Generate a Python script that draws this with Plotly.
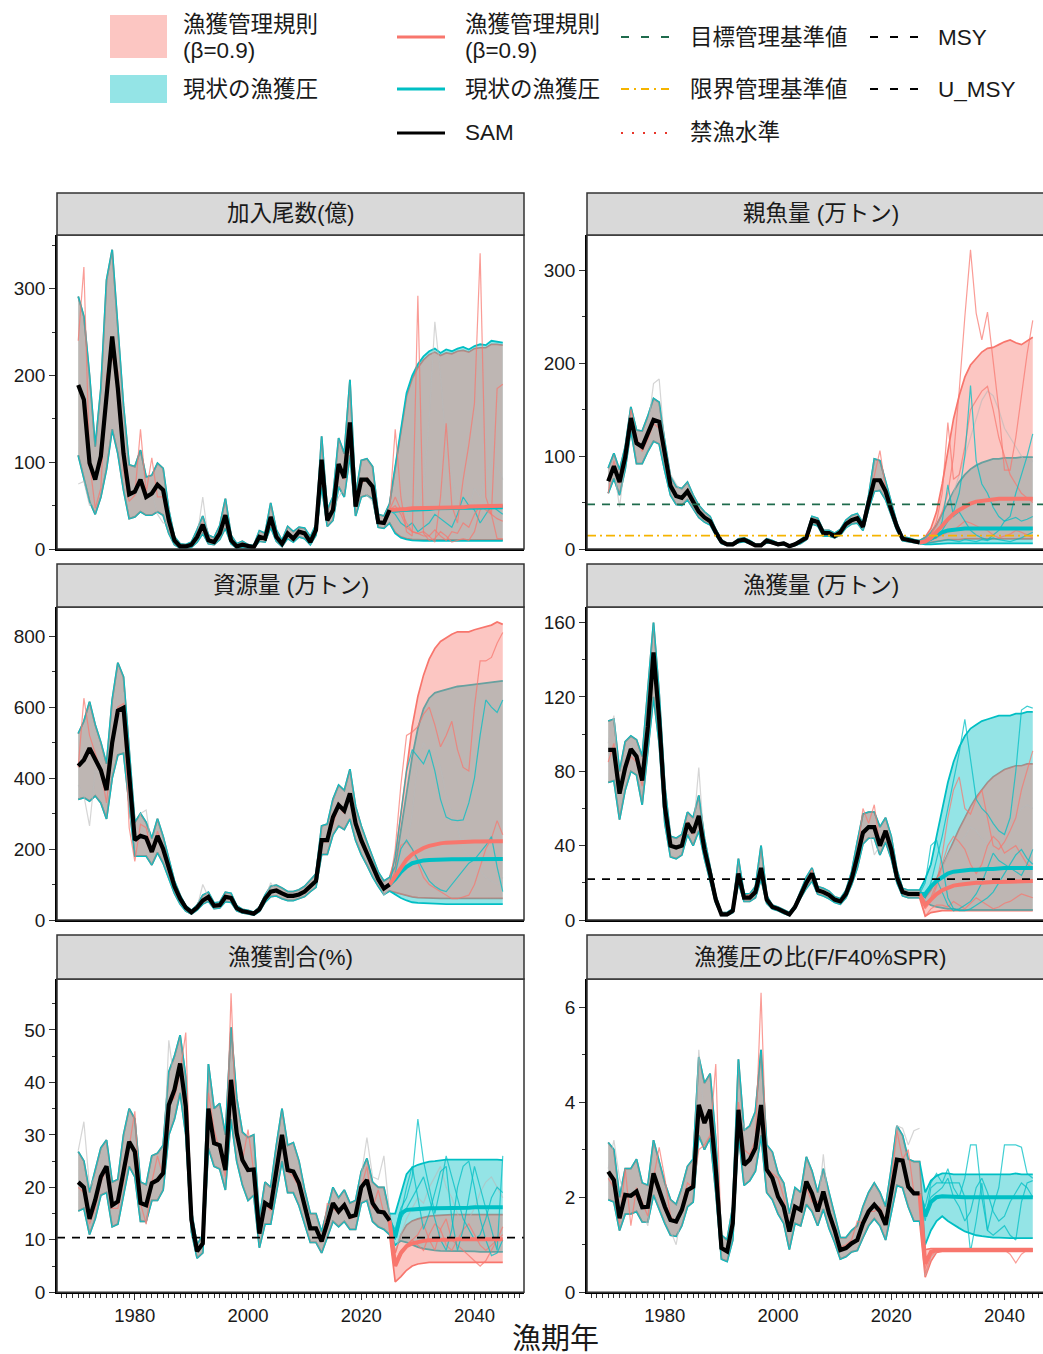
import plotly.graph_objects as go

W, H = 1043, 1354
FONT = "Liberation Sans, Arial, Noto Sans CJK JP, sans-serif"
RED = "#F8766D"
CYAN = "#00BFC4"
RED_FILL = "rgba(248,118,109,0.42)"
CYAN_FILL = "rgba(0,191,196,0.42)"
RED_THIN = "rgba(248,118,109,0.72)"
CYAN_THIN = "rgba(0,191,196,0.75)"
GRAY_THIN = "rgba(185,185,185,0.6)"

YEARS_HIST = list(range(1970, 2026))
YEARS_FUT = list(range(2026, 2046))

# ---------------- 加入尾数(億) ----------------
REC_SAM = [189,172,99,80,107,176,245,185,110,63,
           66,80,60,64,74,68,33,10,3,3,
           5,14,28,10,8,18,39,10,3,5,
           3,2,14,12,37,14,6,18,12,20,
           18,8,22,103,33,45,98,82,146,49,
           80,80,72,31,30,45]
REC_HI = [291,268,200,118,185,310,345,260,165,97,
          95,114,83,85,99,93,45,14,6,5,
          8,22,38,16,13,27,58,16,6,9,
          5,4,21,18,53,22,10,26,20,25,
          24,14,28,130,45,60,128,110,195,62,
          102,104,95,40,38,52]
REC_LO = [108,80,55,40,60,92,138,110,68,35,
          37,43,39,39,43,39,18,5,1,1,
          2,8,18,6,5,11,24,6,1,2,
          1,1,9,8,25,9,3,12,8,14,
          12,5,16,72,26,33,72,60,108,38,
          60,62,58,25,24,30]
REC_HIST_RED = [240,325,100,47,70,200,220,205,90,55,
                62,138,65,105,60,60,30,12,3,3,
                5,15,30,10,7,17,40,10,3,6,
                3,2,15,12,38,14,6,17,12,20,
                18,8,22,95,33,44,95,80,140,50,
                75,82,70,30,30,45]
REC_HIST_GRAY = [75,78,50,58,110,220,300,200,90,60,
                 64,82,58,66,40,30,30,10,3,3,
                 5,14,60,10,8,18,40,10,3,5,
                 3,2,14,12,37,14,6,18,12,20,
                 18,8,22,100,33,45,60,70,146,55,
                 80,62,55,30,30,45]
REC_RULE_MED = [45,46,46,47,47,47,47,48,48,48,48,48,48,49,49,49,49,49,50,50]
REC_RULE_HI = [92,136,176,196,209,218,224,227,223,226,225,228,229,227,231,232,232,236,236,235]
REC_RULE_LO = [19,14,12,11,10.5,10.5,10.5,10.5,10.5,10.5,10.5,10.5,10.5,10.5,10.5,10.5,10.5,10.5,10.5,10.5]
REC_CUR_MED = [44,45,45,46,46,46,46,47,47,47,47,47,47,48,48,48,48,48,48,48]
REC_CUR_HI = [95,140,180,200,213,222,228,231,226,230,228,231,233,230,234,236,235,240,239,238]
REC_CUR_LO = [18,13,11,10,9.5,9.5,9.5,9.5,9.5,9.5,9.5,9.5,9.5,9.5,9.5,9.5,9.5,9.5,9.5,9.5]
REC_RED_A = [138,60,20,15,292,18,10,12,20,15,8,10,12,10,20,45,50,40,12,12]
REC_RED_B = [60,45,30,20,18,15,15,8,60,145,50,30,80,120,168,341,60,40,185,190]
REC_RED_C = [50,40,25,20,18,20,15,22,15,10,20,18,30,25,40,50,45,40,35,32]
REC_CYAN_A = [40,30,25,30,20,25,30,40,35,30,25,40,60,50,45,30,40,50,45,40]
REC_GRAY_F = [40,35,30,60,50,70,150,262,200,120,80,60,50,45,70,60,90,100,95,80]

# ---------------- 親魚量 (万トン) ----------------
SSB_SAM = [73,89,72,99,141,114,110,125,139,137,
           99,68,57,55,62,50,40,34,30,18,
           8,5,5,9,10,7,4,4,9,7,
           5,6,3,5,8,12,31,29,17,17,
           14,18,27,31,33,24,50,74,74,62,
           42,24,11,10,8,7]
SSB_HI = [87,103,85,110,153,128,127,143,162,158,
          115,78,67,65,72,58,47,40,35,21,
          10,6,6,11,12,9,5,5,11,9,
          6,7,4,6,10,15,35,33,20,20,
          17,21,31,36,38,28,57,97,95,72,
          50,28,13,12,10,9]
SSB_LO = [60,76,58,86,128,92,92,105,116,113,
          84,58,48,47,53,43,34,29,26,15,
          6,4,4,7,8,6,3,3,7,6,
          4,5,2,4,6,10,27,25,14,14,
          12,15,23,27,28,20,43,62,63,53,
          36,20,9,8,7,6]
SSB_HIST_RED = [60,95,70,105,150,120,105,118,135,130,
                95,70,58,54,60,48,40,36,28,17,
                8,5,5,9,10,7,4,4,9,7,
                5,6,3,5,8,12,30,30,17,17,
                14,18,27,31,34,24,52,80,106,65,
                40,23,11,10,8,7]
SSB_HIST_GRAY = [75,88,45,96,140,112,112,130,178,183,
                 110,80,70,60,63,50,40,33,29,17,
                 8,5,5,9,10,7,4,4,9,7,
                 5,6,3,5,8,12,31,29,17,17,
                 14,18,27,31,33,24,50,74,72,62,
                 42,24,11,10,8,7]
SSB_RULE_HI = [13,22,40,70,105,140,165,185,198,205,212,216,217,220,223,225,222,220,224,228]
SSB_RULE_LO = [6,7,8,9,10,10,10,11,11,11,11,11,11,11,11,11,11,11,11,11]
SSB_RULE_MED = [8,12,18,25,32,38,42,46,49,51,52,53,54,54,54,54,54,54,54,54]
SSB_CUR_HI = [12,18,26,38,50,62,72,80,86,90,93,95,97,97,98,98,98,99,99,99]
SSB_CUR_LO = [5,5,5.5,6,6,6,6,6,6,6,6,6,6,6,6,6,6,6,6,6]
SSB_CUR_MED = [8,11,15,18,20,21,21,22,22,22,22,22,22,22,22,22,22,22,22,22]
SSB_RED_A = [9,15,25,40,60,100,170,250,322,254,225,255,200,150,85,85,120,165,210,246]
SSB_RED_B = [10,15,30,60,136,75,80,110,150,160,170,175,150,120,100,80,70,60,55,50]
SSB_RED_C = [8,10,12,15,18,20,25,30,28,25,22,20,15,12,14,16,20,18,15,12]
SSB_CYAN_A = [8,10,14,20,30,40,60,100,176,95,70,60,45,35,30,35,60,80,100,124]
SSB_CYAN_B = [8,10,12,30,69,35,40,30,20,15,12,10,15,20,30,32,34,30,32,35]
SSB_CYAN_C = [6,7,8,9,10,9,8,10,9,8,10,9,12,10,9,8,10,12,15,18]
SSB_GRAY_F = [8,12,20,30,45,60,80,100,120,140,160,170,165,150,130,120,110,100,90,95]
SSB_TARGET = 48
SSB_LIMIT = 14.5

# ---------------- 資源量 (万トン) ----------------
BIO_SAM = [434,451,484,451,422,366,500,590,598,410,
           225,237,232,192,237,200,150,95,60,35,
           22,35,55,65,40,42,65,62,33,25,
           22,18,30,60,80,83,75,68,68,72,
           80,95,110,225,225,290,324,308,357,272,
           225,188,150,115,89,100]
BIO_HI = [525,560,615,550,500,440,620,725,685,480,
          275,300,275,230,285,235,175,110,70,40,
          27,42,70,78,48,50,78,75,40,30,
          27,22,36,70,95,98,90,80,80,85,
          95,112,130,265,270,340,380,365,425,320,
          265,220,175,135,110,120]
BIO_LO = [340,345,335,350,330,285,400,465,470,330,
          180,180,180,155,190,160,120,75,45,25,
          17,28,45,53,32,34,52,50,26,20,
          17,14,24,50,66,68,60,55,55,60,
          66,80,92,185,185,240,265,255,285,225,
          185,155,122,95,72,82]
BIO_HIST_RED = [430,625,520,470,420,330,480,600,610,260,
                165,270,260,190,250,200,140,90,55,30,
                22,33,58,64,42,43,63,62,33,25,
                22,18,30,60,80,82,75,68,68,72,
                80,95,110,220,220,270,320,300,350,270,
                220,185,150,112,88,100]
BIO_HIST_GRAY = [380,350,265,420,410,350,510,630,640,300,
                 230,300,310,200,240,200,150,95,60,35,
                 22,35,100,65,40,42,65,62,33,25,
                 22,18,30,60,105,83,75,68,68,72,
                 80,95,110,225,200,290,324,308,357,272,
                 225,188,150,115,70,90]
BIO_RULE_HI = [175,300,430,545,630,690,735,765,785,795,805,812,812,812,818,822,825,831,840,833]
BIO_RULE_LO = [78,72,68,65,63,62,62,61,61,61,61,61,61,61,61,61,61,61,61,61]
BIO_RULE_MED = [125,150,170,185,195,203,209,213,216,218,219,220,220,221,221,221,222,222,222,222]
BIO_CUR_HI = [150,250,360,460,540,595,625,640,645,650,655,658,660,662,664,666,668,670,674,674]
BIO_CUR_LO = [72,62,55,50,48,47,46,45,45,45,45,45,45,45,45,45,45,45,45,45]
BIO_CUR_MED = [115,135,150,160,165,168,169,170,170,170,171,171,171,172,172,172,172,172,172,172]
BIO_CYAN_A = [180,300,420,480,460,440,480,420,340,290,282,280,282,330,400,520,620,600,585,620]
BIO_CYAN_B = [130,200,225,200,170,140,110,95,85,80,100,120,140,160,170,190,210,235,150,80]
BIO_RED_A = [200,380,520,530,545,580,600,550,488,520,560,480,430,420,600,730,730,740,780,810]
BIO_RED_B = [140,210,220,200,160,120,100,90,80,70,60,60,65,70,100,150,200,230,280,240]
BIO_GRAY_F = [120,160,200,300,450,500,470,480,430,350,300,260,200,180,160,140,120,110,100,120]

# ---------------- 漁獲量 (万トン) ----------------
CATCH_SAM = [91.5,91.5,68,82,92,88,75,104,144,108,
             61,40,39,40,52,47,56,38,25,11,
             3,3,5,25,12,12,15,28,11,7,
             6,4.5,3,7,14,20,25,16,15,13.5,
             11,10,14,22,34,47,50,50,40,48,
             38,23,15,14,14,14]
CATCH_HI = [107,108,80,96,99,97,88,125,160,122,
            72,45,44,46,58,55,67,44,29,13,
            4,4,6,33,14,14,18,40,13,8,
            7,5.5,4,8,16,23,28,18,17,15.5,
            12.5,11.5,16,26,42,57,58,58,50,55,
            45,27,17,16,16,16]
CATCH_LO = [74,75,54,70,80,78,62,90,120,95,
            52,34,33,35,46,40,48,33,21,9,
            2.5,2.5,4,20,10,10,12,22,9,6,
            5,3.5,2.5,6,12,17,21,14,13,11.5,
            9.5,8.5,12,19,28,41,44,44,35,42,
            33,20,13,12,12,12]
CATCH_HIST_RED = [85,95,72,80,88,85,72,110,140,105,
                  60,40,40,40,53,46,55,38,25,11,
                  3,3,5,25,12,14,15,27,11,7,
                  6,4.5,3,7,14,20,27,16,15,13.5,
                  11,10,14,22,36,60,52,62,40,48,
                  38,23,15,14,14,14]
CATCH_HIST_GRAY = [95,110,70,85,95,90,75,104,144,108,
                   61,40,39,40,52,47,82,38,25,11,
                   3,3,5,25,12,12,15,28,11,7,
                   6,4.5,3,7,14,20,25,16,15,13.5,
                   11,10,14,22,34,47,50,35,40,48,
                   38,23,15,14,14,14]
CATCH_RULE_HI = [12,16,22,29,36,43,49,55,61,66,70,74,77,79,81,82,83,83,84,84]
CATCH_RULE_LO = [2,4,4.5,5,5,5,5,5,5,5,5,5,5,5,5,5,5,5,5,5]
CATCH_RULE_MED = [8,11,14,16,17.5,18.5,19,19.5,20,20,20,20.5,20.5,20.5,20.5,20.5,21,21,21,21]
CATCH_CUR_HI = [22,30,45,60,74,85,93,99,103,105,107,108,109,110,110,110,111,111,112,112]
CATCH_CUR_LO = [10,8,7,6.5,6,6,5.5,5.5,5.5,5.5,5.5,5.5,5.5,5.5,5.5,5.5,5.5,5.5,5.5,5.5]
CATCH_CUR_MED = [14,18,21,23,25,26,26.5,27,27,27,27.5,27.5,27.5,28,28,28,28,28,28,28]
CATCH_CYAN_A = [12,20,32,45,60,75,90,108,85,65,60,57,52,48,46,55,80,113,115,114]
CATCH_CYAN_B = [20,40,43,30,12,6,5,5,6,8,10,12,15,20,25,30,35,38,33,30]
CATCH_CYAN_C = [12,18,22,15,8,5,6,8,10,14,20,28,36,32,30,28,26,24,30,38]
CATCH_RED_A = [8,12,20,35,55,70,77,60,57,65,70,55,40,38,42,48,55,70,80,91]
CATCH_RED_B = [6,10,18,30,40,45,42,38,30,25,30,40,45,42,36,38,40,35,30,28]
CATCH_RED_C = [2,6,8,8,7,10,8,6,9,12,10,8,6,7,9,10,12,14,13,12]
CATCH_GRAY_F = [10,14,20,28,35,40,42,45,50,48,44,40,38,42,46,50,55,60,62,60]
CATCH_MSY = 22

# ---------------- 漁獲割合(%) ----------------
RATE_SAM = [21,20,14,17.6,22,24,16.6,17.3,23,28.7,
            26.8,17,16.6,20.8,21.4,22.7,35.7,38.6,43.6,35.4,
            13.8,7.8,9.3,35,28.4,28,23.3,40.5,30.3,25.2,
            23.3,23.4,11.2,17,16.3,23.3,30,23.3,23,20.8,
            16.3,12.2,12.2,9.7,13.2,17,15.4,16.6,14.4,14.7,
            20,21.4,17,15.4,15.2,13.7]
RATE_HI = [26.8,25,19,23,27.5,29,21,21.5,30,35,
           33,21,20.5,26,26.5,28,42,45,49,41,
           15.5,9,11,43.5,35,36,30,50.5,37,30.5,
           29.5,30,14,21,20,28,35,28,28.5,25,
           19.5,15,15,11.5,16,20,18,19.5,17,17.5,
           23,25.5,21,20,20,15]
RATE_LO = [15.5,16,11,14,18.5,19,12.5,13,18.5,24,
           22,13.5,13.5,17.5,17.5,19.5,30,33,38,30,
           11.5,6.5,7.5,27.5,24,23.5,19.5,33,25,20.5,
           17.5,18.5,8.5,13,13,19,25,19,19,16.5,
           13,9.5,9.5,7.5,10.5,13.5,12.5,13.5,12,12,
           17,17.5,13.5,12.5,12,11]
RATE_HIST_RED = [20,19,13,16,21,23.5,16,16,21,28,
                 34.5,17,13,21,26,22,36,37,42,49.5,
                 14,8,9,38,31,27,22,57,29,25,
                 31,23,11,17,15.5,23,29,23,22,20,
                 16,12,12,9.5,17,16,15,17,14,14.5,
                 20,24,16,19.5,15,14]
RATE_HIST_GRAY = [27,32.5,20,22,25,27,18,15,24,30,
                  28,18,13,21,22,24,48,40,44,36,
                  14,8,9.5,35,28,28,24,40,30,25,
                  23,23,11,17,16,23,30,23,23,21,
                  16,12,12,10,13,17,15,17,14,15,
                  22,29.5,22,21.5,26,15]
RATE_RULE_HI = [7.5,11,12.8,13.6,14,14.3,14.5,14.6,14.7,14.7,14.8,14.8,14.8,14.8,14.8,14.8,14.8,14.8,14.8,14.8]
RATE_RULE_LO = [2,3,4.2,5,5.4,5.6,5.7,5.7,5.7,5.7,5.7,5.7,5.7,5.7,5.7,5.7,5.7,5.7,5.7,5.7]
RATE_RULE_MED = [5,7.5,8.8,9.3,9.6,9.8,9.9,10,10,10,10.1,10.1,10.1,10.1,10.1,10.1,10.1,10.1,10.1,10.1]
RATE_CUR_HI = [15,19,22.5,23.8,24.3,24.6,24.9,25,25.2,25.3,25.3,25.3,25.3,25.3,25.4,25.4,25.3,25.3,25.3,25.2]
RATE_CUR_LO = [9,9.8,9.5,9,8.6,8.3,8.1,8,7.9,7.9,7.8,7.8,7.8,7.8,7.8,7.7,7.7,7.7,7.7,7.7]
RATE_CUR_MED = [10.5,15,15.7,15.8,15.9,16,16,16,16,16.1,16.1,16.1,16.1,16.1,16.2,16.2,16.2,16.2,16.2,16.2]
RATE_CYAN_A = [12,16,18,22,33,25,20,15,20,26,22,18,14,12,10,11,14,18,20,19]
RATE_CYAN_B = [11,15,20,24,18,12,15,19,23,24,14,8,12,18,24,20,16,12,8,26]
RATE_CYAN_C = [10,14,16,18,20,22,18,14,10,8,12,20,24,25,20,14,10,7,7.5,10]
RATE_RED_A = [6,8,9,10,11,13,10,8,12,14,10,9,8,7,6,5,6,8,10,12.5]
RATE_RED_B = [5,7,9,10,9,8,11,13,12,9,8,10,12,13,11,9,8,9,10,11]
RATE_GRAY_F = [8,11,14,16,18,17,20,22,24,20,18,15,12,14,16,19,21,22,20,18]
RATE_UMSY = 10.4

# ---------------- 漁獲圧の比(F/F40%SPR) ----------------
FR_SAM = [2.54,2.36,1.56,2.05,2.03,2.12,1.79,1.8,2.5,2.15,
          1.8,1.52,1.49,1.73,2.15,2.22,3.94,3.56,3.84,2.58,
          0.93,0.86,1.45,3.84,2.68,2.79,3.03,3.94,2.58,2.4,
          2.01,1.8,1.28,1.8,1.73,2.33,2.08,1.7,2.12,1.66,
          1.31,0.89,0.93,1.03,1.1,1.45,1.7,1.84,1.7,1.42,
          2.08,2.79,2.77,2.22,2.08,2.08]
FR_HI = [3.15,3.0,2.0,2.6,2.6,2.8,2.3,2.25,3.2,2.75,
         2.3,1.95,1.85,2.2,2.65,2.8,4.95,4.4,4.6,3.2,
         1.2,1.1,1.8,4.9,3.4,3.5,3.8,5.1,3.1,2.95,
         2.5,2.3,1.65,2.2,2.1,2.85,2.55,2.1,2.6,2.1,
         1.65,1.15,1.15,1.3,1.4,1.8,2.1,2.3,2.1,1.8,
         2.6,3.5,3.3,2.8,2.75,2.75]
FR_LO = [1.95,1.9,1.3,1.65,1.65,1.7,1.48,1.48,2.05,1.75,
         1.45,1.2,1.18,1.4,1.8,1.9,3.3,3.0,3.25,2.1,
         0.7,0.65,1.1,3.35,2.25,2.35,2.55,3.3,2.1,1.95,
         1.65,1.45,0.9,1.45,1.4,1.85,1.7,1.4,1.75,1.35,
         1.05,0.7,0.75,0.85,0.88,1.15,1.4,1.55,1.4,1.1,
         1.7,2.25,2.2,1.8,1.5,1.5]
FR_HIST_RED = [2.4,2.2,1.45,2.6,1.4,2.2,1.9,1.6,2.4,3.05,
               2.4,1.6,1.45,1.8,2.3,2.2,3.0,3.1,3.3,4.8,
               0.95,0.9,1.4,4.0,3.0,2.9,3.2,6.3,2.6,2.5,
               2.4,2.0,1.3,1.8,1.7,2.2,1.9,1.9,2.0,1.7,
               1.3,0.95,1.0,1.1,1.5,1.45,1.7,1.7,1.8,1.5,
               2.3,3.4,2.8,3.0,2.1,2.05]
FR_HIST_GRAY = [2.6,3.2,2.4,2.0,2.2,2.0,1.7,1.4,2.5,2.1,
                1.6,1.3,1.0,1.7,2.1,2.3,5.1,3.6,3.9,2.6,
                0.9,0.85,1.45,3.8,3.5,3.1,3.0,4.0,2.6,2.4,
                2.0,1.8,1.3,1.8,1.7,2.3,2.1,1.7,2.9,1.7,
                1.3,0.9,0.95,1.05,1.1,1.45,1.7,1.85,1.7,1.45,
                2.1,3.5,3.45,3.1,3.4,3.45]
FR_RULE_HI = [0.9,0.92,0.92,0.92,0.92,0.92,0.92,0.92,0.92,0.92,0.92,0.92,0.92,0.92,0.92,0.92,0.92,0.92,0.92,0.92]
FR_RULE_LO = [0.32,0.65,0.84,0.86,0.86,0.86,0.86,0.86,0.86,0.86,0.86,0.86,0.86,0.86,0.86,0.86,0.86,0.86,0.86,0.86]
FR_RULE_MED = [0.6,0.85,0.89,0.89,0.89,0.89,0.89,0.89,0.89,0.89,0.89,0.89,0.89,0.89,0.89,0.89,0.89,0.89,0.89,0.89]
FR_CUR_HI = [2.1,2.35,2.45,2.5,2.5,2.48,2.48,2.48,2.48,2.48,2.48,2.48,2.48,2.48,2.48,2.48,2.5,2.48,2.48,2.48]
FR_CUR_LO = [1.0,1.3,1.5,1.6,1.5,1.42,1.35,1.28,1.24,1.2,1.18,1.16,1.15,1.15,1.14,1.14,1.14,1.14,1.14,1.14]
FR_CUR_MED = [1.6,1.9,2.0,2.02,2.01,2.01,2.0,2.0,2.0,2.0,2.0,2.0,2.0,2.0,2.0,2.0,2.0,2.0,2.0,2.0]
FR_CYAN_A = [1.8,2.3,2.5,2.3,2.6,2.2,2.0,2.4,3.1,3.1,2.0,1.3,1.8,2.2,3.1,3.1,3.1,3.05,2.5,2.4]
FR_CYAN_B = [1.5,2.2,2.3,2.3,2.3,2.3,2.3,2.0,0.85,1.5,2.3,1.3,1.2,1.3,1.4,1.2,1.1,1.9,2.3,2.35]
FR_CYAN_C = [1.7,2.0,2.1,2.2,2.4,2.0,1.8,1.5,1.7,2.2,2.4,2.1,1.7,1.5,1.6,1.9,2.1,2.3,2.2,2.0]
FR_RED_A = [0.5,0.8,0.89,0.89,0.89,0.89,0.89,0.89,0.89,0.89,0.89,0.89,0.89,0.89,0.89,0.8,0.62,0.8,0.89,0.89]
FR_RED_B = [0.4,0.75,0.88,0.89,0.89,0.89,0.89,0.89,0.89,0.89,0.89,0.89,0.89,0.89,0.89,0.89,0.89,0.89,0.89,0.89]
FR_GRAY_F = [0.35,0.72,0.86,0.88,0.89,0.89,0.89,0.89,0.89,0.89,0.89,0.89,0.89,0.89,0.89,0.89,0.89,0.89,0.89,0.89]

PANELS = [
    dict(title="加入尾数(億)", yr=[0, 362], dt=100, mdt=50,
         sam=REC_SAM, lo=REC_LO, hi=REC_HI,
         rule=(REC_RULE_LO, REC_RULE_MED, REC_RULE_HI), cur=(REC_CUR_LO, REC_CUR_MED, REC_CUR_HI),
         hthin=[(REC_HIST_GRAY, GRAY_THIN), (REC_HIST_RED, RED_THIN)],
         fthin=[(REC_GRAY_F, GRAY_THIN), (REC_CYAN_A, CYAN_THIN), (REC_RED_C, RED_THIN),
                (REC_RED_A, RED_THIN), (REC_RED_B, RED_THIN)],
         refs=[]),
    dict(title="親魚量 (万トン)", yr=[0, 338], dt=100, mdt=50,
         sam=SSB_SAM, lo=SSB_LO, hi=SSB_HI,
         rule=(SSB_RULE_LO, SSB_RULE_MED, SSB_RULE_HI), cur=(SSB_CUR_LO, SSB_CUR_MED, SSB_CUR_HI),
         hthin=[(SSB_HIST_GRAY, GRAY_THIN), (SSB_HIST_RED, RED_THIN)],
         fthin=[(SSB_GRAY_F, GRAY_THIN), (SSB_RED_C, RED_THIN), (SSB_RED_B, RED_THIN), (SSB_RED_A, RED_THIN),
                (SSB_CYAN_C, CYAN_THIN), (SSB_CYAN_B, CYAN_THIN), (SSB_CYAN_A, CYAN_THIN)],
         refs=[(SSB_TARGET, "#1E6B4C", "8px,7px"), (SSB_LIMIT, "#F5B400", "9px,4px,2px,4px")]),
    dict(title="資源量 (万トン)", yr=[0, 882], dt=200, mdt=100,
         sam=BIO_SAM, lo=BIO_LO, hi=BIO_HI,
         rule=(BIO_RULE_LO, BIO_RULE_MED, BIO_RULE_HI), cur=(BIO_CUR_LO, BIO_CUR_MED, BIO_CUR_HI),
         hthin=[(BIO_HIST_GRAY, GRAY_THIN), (BIO_HIST_RED, RED_THIN)],
         fthin=[(BIO_GRAY_F, GRAY_THIN), (BIO_RED_B, RED_THIN), (BIO_RED_A, RED_THIN),
                (BIO_CYAN_B, CYAN_THIN), (BIO_CYAN_A, CYAN_THIN)],
         refs=[]),
    dict(title="漁獲量 (万トン)", yr=[0, 168.4], dt=40, mdt=20,
         sam=CATCH_SAM, lo=CATCH_LO, hi=CATCH_HI,
         rule=(CATCH_RULE_LO, CATCH_RULE_MED, CATCH_RULE_HI), cur=(CATCH_CUR_LO, CATCH_CUR_MED, CATCH_CUR_HI),
         hthin=[(CATCH_HIST_GRAY, GRAY_THIN), (CATCH_HIST_RED, RED_THIN)],
         fthin=[(CATCH_GRAY_F, GRAY_THIN), (CATCH_RED_C, RED_THIN), (CATCH_RED_B, RED_THIN), (CATCH_RED_A, RED_THIN),
                (CATCH_CYAN_C, CYAN_THIN), (CATCH_CYAN_B, CYAN_THIN), (CATCH_CYAN_A, CYAN_THIN)],
         refs=[(CATCH_MSY, "#000000", "8px,7px")]),
    dict(title="漁獲割合(%)", yr=[0, 59.7], dt=10, mdt=5,
         sam=RATE_SAM, lo=RATE_LO, hi=RATE_HI,
         rule=(RATE_RULE_LO, RATE_RULE_MED, RATE_RULE_HI), cur=(RATE_CUR_LO, RATE_CUR_MED, RATE_CUR_HI),
         hthin=[(RATE_HIST_GRAY, GRAY_THIN), (RATE_HIST_RED, RED_THIN)],
         fthin=[(RATE_GRAY_F, GRAY_THIN), (RATE_RED_B, RED_THIN), (RATE_RED_A, RED_THIN),
                (RATE_CYAN_C, CYAN_THIN), (RATE_CYAN_B, CYAN_THIN), (RATE_CYAN_A, CYAN_THIN)],
         refs=[(RATE_UMSY, "#000000", "8px,7px")]),
    dict(title="漁獲圧の比(F/F40%SPR)", yr=[0, 6.59], dt=2, mdt=1,
         sam=FR_SAM, lo=FR_LO, hi=FR_HI,
         rule=(FR_RULE_LO, FR_RULE_MED, FR_RULE_HI), cur=(FR_CUR_LO, FR_CUR_MED, FR_CUR_HI),
         hthin=[(FR_HIST_GRAY, GRAY_THIN), (FR_HIST_RED, RED_THIN)],
         fthin=[(FR_GRAY_F, GRAY_THIN), (FR_RED_B, RED_THIN), (FR_RED_A, RED_THIN),
                (FR_CYAN_C, CYAN_THIN), (FR_CYAN_B, CYAN_THIN), (FR_CYAN_A, CYAN_THIN)],
         refs=[]),
]

# ---------------- layout geometry (pixels) ----------------
COL_X = [(57, 524), (587, 1054)]
ROW_Y = [(235, 549), (607, 920), (979, 1292.3)]
STRIP_Y = [(193, 235), (564, 607), (935, 979)]
X0 = 1966.25
PX_PER_YR = 467 / 82.5


def pxx(v):
    return v / W


def pxy(v):
    return 1 - v / H


fig = go.Figure()
shapes = []
annotations = []
layout_axes = {}

YEARS_ALL = YEARS_HIST + YEARS_FUT

for i, p in enumerate(PANELS, start=1):
    row, col = (i - 1) // 2, (i - 1) % 2
    xa = "x" if i == 1 else f"x{i}"
    ya = "y" if i == 1 else f"y{i}"
    xl = "xaxis" if i == 1 else f"xaxis{i}"
    yl = "yaxis" if i == 1 else f"yaxis{i}"
    cx0, cx1 = COL_X[col]
    ry0, ry1 = ROW_Y[row]
    dom_x1 = min(cx1, W)
    xmax = X0 + (dom_x1 - cx0) / PX_PER_YR
    bottom = row == 2
    layout_axes[xl] = dict(
        domain=[pxx(cx0), pxx(dom_x1)], range=[X0, xmax], anchor=ya,
        showline=True, linecolor="#000000", linewidth=1.5, mirror=False,
        showgrid=False, zeroline=False, automargin=False,
        ticks="outside" if bottom else "", ticklen=6, tickwidth=1.2, tickcolor="#333333",
        showticklabels=bottom, tick0=1980, dtick=20,
        tickfont=dict(family=FONT, size=18.5, color="#1a1a1a"),
        minor=dict(ticks="outside" if bottom else "", dtick=1, tick0=1970, ticklen=4,
                   tickwidth=1, tickcolor="#333333", showgrid=False),
    )
    layout_axes[yl] = dict(
        domain=[pxy(ry1), pxy(ry0)], range=p["yr"], anchor=xa,
        showline=True, linecolor="#000000", linewidth=1.5,
        showgrid=False, zeroline=False, automargin=False,
        ticks="outside", ticklen=6, tickwidth=1.2, tickcolor="#333333",
        tick0=0, dtick=p["dt"],
        tickfont=dict(family=FONT, size=19, color="#1a1a1a"),
        minor=dict(ticks="outside", dtick=p["mdt"], tick0=0, ticklen=3.5,
                   tickwidth=1, tickcolor="#333333", showgrid=False),
    )

    sam = p["sam"]
    rlo, rmed, rhi = p["rule"]
    clo, cmed, chi = p["cur"]
    rule_hi = p["hi"] + rhi
    rule_lo = p["lo"] + rlo
    cur_hi = p["hi"] + chi
    cur_lo = p["lo"] + clo

    def line(x, y, color, width, dash=None):
        fig.add_trace(go.Scatter(x=x, y=y, mode="lines", xaxis=xa, yaxis=ya,
                                 line=dict(color=color, width=width, dash=dash),
                                 hoverinfo="skip", showlegend=False))

    # ribbon edges (drawn under the fills)
    line(YEARS_ALL, rule_hi, RED, 1.7)
    line(YEARS_ALL, rule_lo, RED, 1.7)
    line(YEARS_ALL, cur_hi, CYAN, 1.8)
    line(YEARS_ALL, cur_lo, CYAN, 1.8)
    # ribbons
    fig.add_trace(go.Scatter(x=YEARS_ALL + YEARS_ALL[::-1], y=cur_hi + cur_lo[::-1],
                             mode="lines", fill="toself", fillcolor=CYAN_FILL,
                             line=dict(width=0, color=CYAN), xaxis=xa, yaxis=ya,
                             hoverinfo="skip", showlegend=False))
    fig.add_trace(go.Scatter(x=YEARS_ALL + YEARS_ALL[::-1], y=rule_hi + rule_lo[::-1],
                             mode="lines", fill="toself", fillcolor=RED_FILL,
                             line=dict(width=0, color=RED), xaxis=xa, yaxis=ya,
                             hoverinfo="skip", showlegend=False))
    # thin simulation lines
    for arr, colr in p["hthin"]:
        line(YEARS_HIST, arr, colr, 1.2)
    yrs_f = [YEARS_HIST[-1]] + YEARS_FUT
    for arr, colr in p["fthin"]:
        line(yrs_f, [sam[-1]] + arr, colr, 1.2)
    # medians
    line(yrs_f, [sam[-1]] + cmed, CYAN, 4)
    line(yrs_f, [sam[-1]] + rmed, RED, 4)
    # SAM estimate
    line(YEARS_HIST, sam, "#000000", 4.2)

    # reference lines
    for val, colr, dash in p["refs"]:
        shapes.append(dict(type="line", xref=f"{xa} domain", x0=0, x1=1, yref=ya, y0=val, y1=val,
                           line=dict(color=colr, width=1.7, dash=dash), layer="above"))

    # panel border and strip
    shapes.append(dict(type="rect", xref="paper", yref="paper",
                       x0=pxx(cx0), x1=pxx(cx1), y0=pxy(ry1), y1=pxy(ry0),
                       line=dict(color="#333333", width=1.5), fillcolor="rgba(0,0,0,0)", layer="above"))
    sy0, sy1 = STRIP_Y[row]
    shapes.append(dict(type="rect", xref="paper", yref="paper",
                       x0=pxx(cx0), x1=pxx(cx1), y0=pxy(sy1), y1=pxy(sy0),
                       line=dict(color="#333333", width=1.5), fillcolor="#D9D9D9", layer="above"))
    annotations.append(dict(x=pxx((cx0 + cx1) / 2), y=pxy((sy0 + sy1) / 2), xref="paper", yref="paper",
                            text=p["title"], showarrow=False, xanchor="center", yanchor="middle",
                            font=dict(family=FONT, size=22.5, color="#1a1a1a")))

# x axis title
annotations.append(dict(x=pxx(555), y=pxy(1339), xref="paper", yref="paper", text="漁期年",
                        showarrow=False, xanchor="center", yanchor="middle",
                        font=dict(family=FONT, size=29, color="#1a1a1a")))

# ---------------- legend (manual) ----------------
LEG_FONT = dict(family=FONT, size=22.5, color="#1a1a1a")


def leg_text(x, y, t):
    annotations.append(dict(x=pxx(x), y=pxy(y), xref="paper", yref="paper", text=t, showarrow=False,
                            xanchor="left", yanchor="middle", font=LEG_FONT))


def leg_rect(x0, x1, y0, y1, color):
    shapes.append(dict(type="rect", xref="paper", yref="paper", x0=pxx(x0), x1=pxx(x1),
                       y0=pxy(y1), y1=pxy(y0), line=dict(width=0), fillcolor=color))


def leg_line(x0, x1, y, color, width, dash=None):
    shapes.append(dict(type="line", xref="paper", yref="paper", x0=pxx(x0), x1=pxx(x1),
                       y0=pxy(y), y1=pxy(y), line=dict(color=color, width=width, dash=dash)))


leg_rect(110, 167, 15, 58, RED_FILL)
leg_text(181, 25, "漁獲管理規則")
leg_text(181, 50, "(β=0.9)")
leg_rect(110, 167, 75, 103, CYAN_FILL)
leg_text(181, 89, "現状の漁獲圧")

leg_line(397, 445, 37, RED, 3)
leg_text(463, 25, "漁獲管理規則")
leg_text(463, 50, "(β=0.9)")
leg_line(397, 445, 89, CYAN, 3)
leg_text(463, 89, "現状の漁獲圧")
leg_line(397, 445, 133, "#000000", 3)
leg_text(463, 133, "SAM")

leg_line(621, 669, 37, "#1E6B4C", 2.2, "8px,12px")
leg_text(688, 37, "目標管理基準値")
leg_line(621, 669, 89, "#F5B400", 2.2, "8px,5px,2px,5px")
leg_text(688, 89, "限界管理基準値")
leg_line(621, 669, 133, "#E8352A", 2.2, "2px,9px")
leg_text(688, 133, "禁漁水準")

leg_line(870, 918, 37, "#000000", 2.2, "8px,12px")
leg_text(936, 37, "MSY")
leg_line(870, 918, 89, "#000000", 2.2, "8px,12px")
leg_text(936, 89, "U_MSY")

fig.update_layout(
    width=W, height=H, margin=dict(l=0, r=0, t=0, b=0),
    paper_bgcolor="white", plot_bgcolor="white", showlegend=False,
    font=dict(family=FONT, color="#1a1a1a"),
    shapes=shapes, annotations=annotations, **layout_axes,
)

fig.write_html("out.html", config={"displayModeBar": False},
               post_script="document.body.style.margin='0px';document.body.style.overflow='hidden';")
